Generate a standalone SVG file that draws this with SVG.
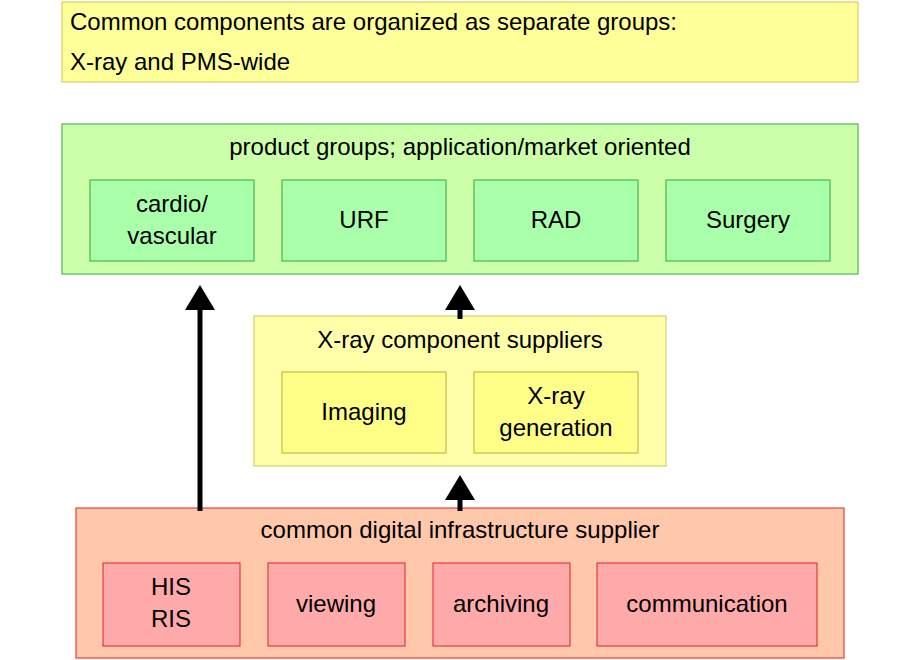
<svg xmlns="http://www.w3.org/2000/svg" width="920" height="660" viewBox="0 0 920 660">
<style>
text{font-family:"Liberation Sans",Arial,sans-serif;font-size:24px;fill:#000}
.c{text-anchor:middle}
.y{fill:#ffff99;stroke:#c8c850;stroke-width:1}
.g{fill:#ccffaa;stroke:#33aa33;stroke-width:1}
.gi{fill:#aaffaa;stroke:#33aa33;stroke-width:1}
.ym{fill:#ffffaa;stroke:#c8c850;stroke-width:1}
.yi{fill:#ffff88;stroke:#b0b040;stroke-width:1}
.r{fill:#ffc8aa;stroke:#dd2222;stroke-width:1}
.ri{fill:#ffaaaa;stroke:#dd2222;stroke-width:1}
.a{stroke:#000;stroke-width:5;fill:none;marker-end:url(#h)}
</style>
<defs><marker id="h" markerWidth="5" markerHeight="6" refX="4" refY="3" orient="auto" markerUnits="strokeWidth"><path d="M0,0L5,3L0,6z" fill="#000"/></marker></defs>
<g id="note"><rect class="y" x="62" y="2" width="796" height="80"/><text x="70" y="30">Common components are organized as separate groups:</text><text x="70" y="70">X-ray and PMS-wide</text></g>
<g id="product"><rect class="g" x="62" y="124" width="796" height="150"/><text class="c" x="460" y="155">product groups; application/market oriented</text></g>
<g id="cardio"><rect class="gi" x="90" y="180" width="164" height="81"/><text class="c" x="172" y="212">cardio/</text><text class="c" x="172" y="244">vascular</text></g>
<g id="urf"><rect class="gi" x="282" y="180" width="164" height="81"/><text class="c" x="364" y="228">URF</text></g>
<g id="rad"><rect class="gi" x="474" y="180" width="164" height="81"/><text class="c" x="556" y="228">RAD</text></g>
<g id="surgery"><rect class="gi" x="666" y="180" width="164" height="81"/><text class="c" x="748" y="228">Surgery</text></g>
<g id="xray"><rect class="ym" x="254" y="316" width="412" height="150"/><text class="c" x="460" y="348">X-ray component suppliers</text></g>
<g id="imaging"><rect class="yi" x="282" y="372" width="164" height="81"/><text class="c" x="364" y="420">Imaging</text></g>
<g id="xgen"><rect class="yi" x="474" y="372" width="164" height="81"/><text class="c" x="556" y="404">X-ray</text><text class="c" x="556" y="436">generation</text></g>
<g id="infra"><rect class="r" x="76" y="508" width="768" height="150"/><text class="c" x="460" y="538">common digital infrastructure supplier</text></g>
<g id="his"><rect class="ri" x="103" y="563" width="137" height="83"/><text class="c" x="171" y="595">HIS</text><text class="c" x="171" y="627">RIS</text></g>
<g id="viewing"><rect class="ri" x="268" y="563" width="137" height="83"/><text class="c" x="336" y="612">viewing</text></g>
<g id="archiving"><rect class="ri" x="433" y="563" width="137" height="83"/><text class="c" x="501" y="612">archiving</text></g>
<g id="communication"><rect class="ri" x="597" y="563" width="220" height="83"/><text class="c" x="707" y="612">communication</text></g>
<g id="connectors">
<line class="a" x1="200" y1="511" x2="200" y2="290"/>
<line class="a" x1="460" y1="319" x2="460" y2="290"/>
<line class="a" x1="460" y1="511" x2="460" y2="480"/>
</g>
</svg>
